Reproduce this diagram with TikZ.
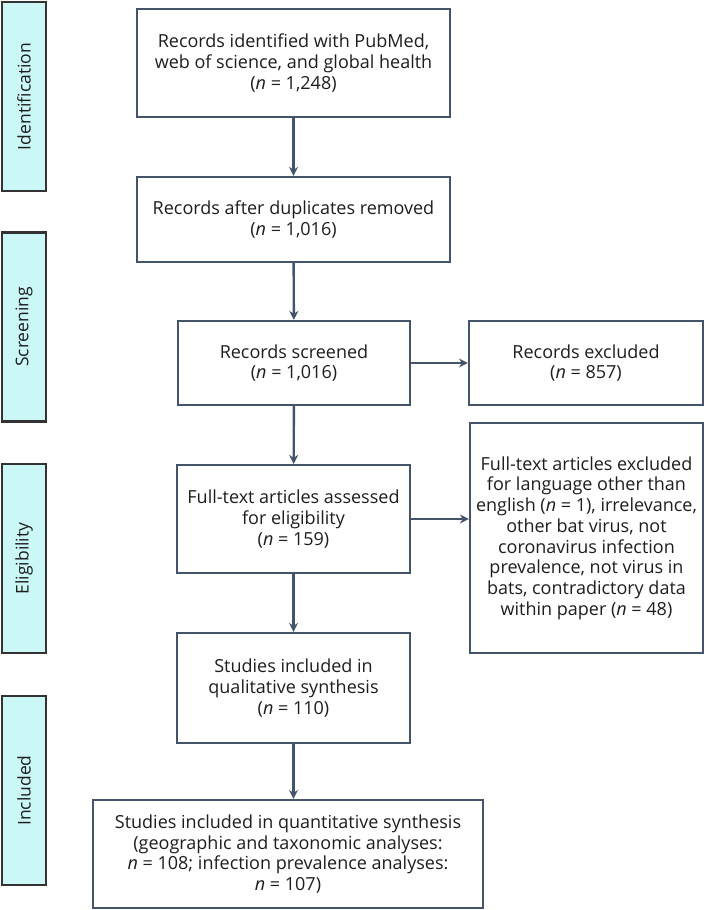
\documentclass[tikz,border=0pt]{standalone}
\usepackage{fontspec}
\setmainfont{Open Sans}
\usetikzlibrary{arrows.meta}
\definecolor{boxline}{HTML}{44546A}
\definecolor{barfill}{HTML}{CBF7F6}
\definecolor{barline}{HTML}{333333}
\definecolor{txt}{HTML}{1E1E1E}
\begin{document}
\begin{tikzpicture}[x=1pt,y=-1pt,
  box/.style={draw=boxline,line width=2.2pt,fill=white,align=center,text=txt,
    font=\fontsize{18}{20.7}\selectfont,inner sep=0pt},
  bar/.style={draw=barline,line width=2.2pt,fill=barfill,text=txt,
    minimum width=44pt,minimum height=189pt,inner sep=0pt,
    font=\fontsize{17.5}{20}\selectfont},
  flow/.style={draw=boxline,line width=2.4pt,-{Stealth[length=9pt,width=9pt]}}]
\useasboundingbox (0,0) rectangle (705,910);
% stage bars
\node[bar] (id) at (24,96.5) {\rotatebox{90}{Identification}};
\node[bar] (sc) at (24,327) {\rotatebox{90}{Screening}};
\node[bar] (el) at (24,558.5) {\rotatebox{90}{Eligibility}};
\node[bar] (in) at (24,790.5) {\rotatebox{90}{Included}};
% main column
\node[box,minimum width=313pt,minimum height=108pt] (a) at (293.5,63)
  {Records identified with PubMed,\\web of science, and global health\\(\textit{n} = 1,248)};
\node[box,minimum width=313pt,minimum height=85pt] (b) at (293.5,219.5)
  {Records after duplicates removed\\(\textit{n} = 1,016)};
\node[box,minimum width=232pt,minimum height=84pt] (c) at (294,363)
  {Records screened\\(\textit{n} = 1,016)};
\node[box,minimum width=233pt,minimum height=108pt] (d) at (293.5,519)
  {Full-text articles assessed\\for eligibility\\(\textit{n} = 159)};
\node[box,minimum width=233pt,minimum height=110pt] (e) at (293.5,688)
  {Studies included in\\qualitative synthesis\\(\textit{n} = 110)};
\node[box,minimum width=390pt,minimum height=108pt] (f) at (288,854)
  {Studies included in quantitative synthesis\\(geographic and taxonomic analyses:\\
   \textit{n} = 108; infection prevalence analyses:\\\textit{n} = 107)};
% exclusions
\node[box,minimum width=234pt,minimum height=84pt] (g) at (586,363)
  {Records excluded\\(\textit{n} = 857)};
\node[box,minimum width=233pt,minimum height=230pt] (h) at (586.5,538)
  {Full-text articles excluded\\for language other than\\english (\textit{n} = 1), irrelevance,\\
   other bat virus, not\\coronavirus infection\\prevalence, not virus in\\
   bats, contradictory data\\within paper (\textit{n} = 48)};
% arrows
\draw[flow] (a) -- (b);
\draw[flow] (b) -- (c);
\draw[flow] (c) -- (d);
\draw[flow] (d) -- (e);
\draw[flow] (e.south) -- (e.south |- f.north);
\draw[flow] (c) -- (g);
\draw[flow] (d.east) -- (d.east -| h.west);
\end{tikzpicture}
\end{document}
